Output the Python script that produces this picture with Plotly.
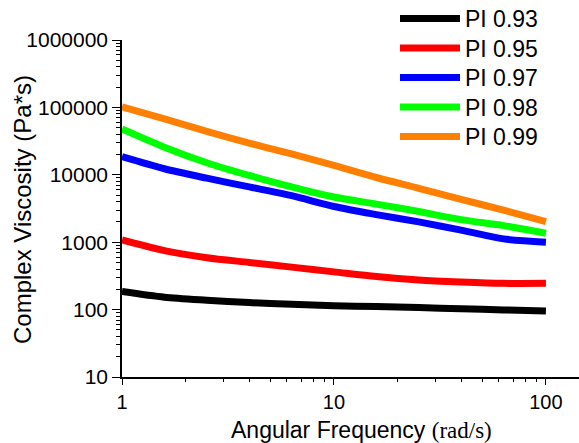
import plotly.graph_objects as go

# Angular frequency (rad/s)
freq = [1.0, 1.585, 2.512, 3.981, 6.310, 10.0, 15.85, 25.12, 39.81, 63.10, 100.0]

# Complex viscosity (Pa*s) per sample
pi_093 = [186, 153, 138, 127, 120, 114, 111, 107, 103, 99, 95]
pi_095 = [1080, 750, 589, 501, 427, 363, 309, 275, 257, 245, 245]
pi_097 = [18600, 12300, 8910, 6610, 4900, 3390, 2570, 2000, 1510, 1120, 1000]
pi_098 = [47900, 25700, 15100, 9770, 6610, 4680, 3670, 2850, 2160, 1760, 1355]
pi_099 = [102000, 67600, 44200, 29500, 20400, 13800, 9120, 6310, 4320, 2990, 2020]

series_names = ["PI 0.93", "PI 0.95", "PI 0.97", "PI 0.98", "PI 0.99"]
series_vals = [pi_093, pi_095, pi_097, pi_098, pi_099]
colors = ["#000000", "#ff0000", "#0000ff", "#00ff00", "#ff8000"]

y_tickvals = [10, 100, 1000, 10000, 100000, 1000000]
y_ticktext = ["10", "100", "1000", "10000", "100000", "1000000"]
x_tickvals = [1, 10, 100]
x_ticktext = ["1", "10", "100"]

legend_ids = ["legend", "legend2", "legend3", "legend4", "legend5"]
legend_centers_px = [18.5, 48, 77.5, 107, 136.5]

fig = go.Figure()
for name, vals, c, lid in zip(series_names, series_vals, colors, legend_ids):
    fig.add_trace(go.Scatter(x=freq, y=vals, mode="lines", name=name, legend=lid,
                             line=dict(color=c, width=7, shape="spline", smoothing=0.8)))

y_minor = [m * 10 ** k for k in range(1, 6) for m in range(2, 10)]
x_minor = [m * 10 ** k for k in range(0, 2) for m in range(2, 10)]

legend_layout = {}
for lid, cy in zip(legend_ids, legend_centers_px):
    legend_layout[lid] = dict(xref="container", yref="container", x=395 / 579, y=1 - cy / 443,
                              xanchor="left", yanchor="middle", font=dict(size=23),
                              itemwidth=60, bgcolor="rgba(0,0,0,0)", borderwidth=0)

fig.update_layout(
    width=579, height=443,
    margin=dict(l=122, r=0, t=40, b=66, autoexpand=False),
    plot_bgcolor="white", paper_bgcolor="white",
    font=dict(family="Liberation Sans, Arial", color="black"),
    showlegend=True,
    xaxis=dict(type="log", range=[0, 2.156], showline=True, linecolor="black", linewidth=1.5,
               showgrid=False, zeroline=False, ticks="outside", ticklen=6, tickwidth=1.3,
               tickcolor="black", tickmode="array", tickvals=x_tickvals, ticktext=x_ticktext,
               tickfont=dict(size=20),
               minor=dict(tickmode="array", tickvals=x_minor, ticks="outside", ticklen=3,
                          tickwidth=1, tickcolor="black", showgrid=False)),
    yaxis=dict(type="log", range=[1, 6], showline=True, linecolor="black", linewidth=1.5,
               showgrid=False, zeroline=False, ticks="outside", ticklen=8, tickwidth=1.3,
               tickcolor="black", tickmode="array", tickvals=y_tickvals, ticktext=y_ticktext,
               tickfont=dict(size=21),
               minor=dict(tickmode="array", tickvals=y_minor, ticks="outside", ticklen=4,
                          tickwidth=1, tickcolor="black", showgrid=False)),
    **legend_layout,
)

fig.add_annotation(
    xref="paper", yref="paper", x=0.524, y=(377 - 430) / 337,
    xanchor="center", yanchor="middle", showarrow=False,
    text="Angular Frequency <span style='font-family:Liberation Serif, Times New Roman'>(rad/s)</span>",
    font=dict(size=23, color="black"),
)
fig.add_annotation(
    xref="paper", yref="paper", x=(22.5 - 122) / 457, y=(377 - 209.5) / 337,
    xanchor="center", yanchor="middle", showarrow=False, textangle=-90,
    text="Complex Viscosity (Pa*s)", font=dict(size=24, color="black"),
)

fig.write_html("out.html")
